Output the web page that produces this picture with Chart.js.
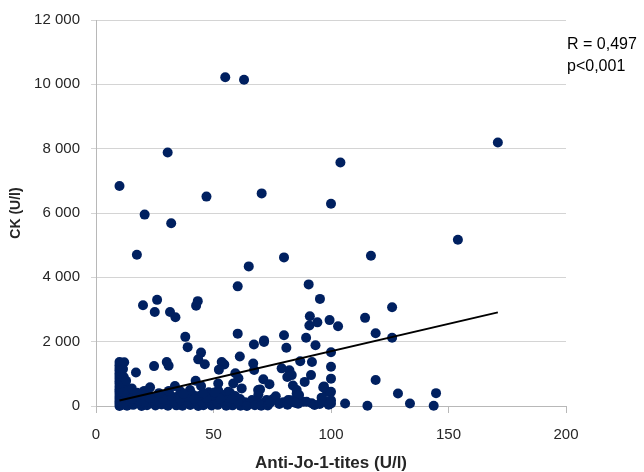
<!DOCTYPE html>
<html>
<head>
<meta charset="utf-8">
<script src="https://cdn.jsdelivr.net/npm/chart.js@4/dist/chart.umd.min.js"></script>
<style>
  body { margin: 0; background: #fff; }
  canvas { display: block; }
</style>
</head>
<body>
<canvas id="ckChart" width="644" height="472"></canvas>
<script>
// Anti-Jo-1 titre (U/l) for each patient
const joTiter = [
  55, 63, 171, 30.5, 104, 10, 47, 70.5, 100, 20.7,
  32, 154, 17.4, 65, 80, 117, 60.3, 90.5, 95.3, 20,
  26, 25, 31.5, 33.8, 42.6, 43.3, 91, 90.8, 94.2, 99.4,
  103, 114.5, 126, 119, 126, 38, 60.3, 80, 71.5, 89.4,
  39, 44.7, 67.2, 71.5, 81, 93.4, 100, 61.2, 43.5, 46.3,
  100, 119, 100, 100, 100, 106, 115.5, 128.5, 133.6, 144.7,
  143.7,
  53.5, 54.6, 52.3, 59.3, 66.9, 67.3, 86.9, 91.9, 79, 82.3,
  83.3, 81.4, 91.5, 71.2, 73.8, 83.8, 88.8, 97, 98.3, 58.4,
  52, 56.3, 69, 85.4, 88.2, 81.8, 72.6, 66.4, 62, 69.8,
  69.1, 85.4, 86.4, 96.7, 61.3, 63.4, 65, 67.5, 70, 72.6,
  75, 78, 79.7, 81.5, 83, 89.6, 91.8, 93, 97.7, 99,
  100, 96, 86, 76.5, 60.6,
  10, 10, 10, 10, 10, 10, 10, 10, 10, 10,
  10, 10, 10, 10, 10, 10, 10, 10, 12, 11.5,
  11.8, 12, 11.6, 12, 11.2,
  13.2, 15.8, 19.4, 21.7, 25.3, 27.9, 30.6, 34.2, 36.8, 40.1,
  43.5, 45.7, 49.2, 51.8, 55.4, 58.1, 61.5, 64.2, 67.6, 70.3,
  73.1,
  14.5, 18.2, 21.1, 24.6, 27.3, 30.2, 33.4, 36.1, 39.3, 42.6,
  45.2, 48.1, 51.4, 54.3, 57.2, 60.4,
  13.1, 16.6, 20.2, 23.1, 26.2, 29.6, 32.3, 35.2, 38.6, 41.3,
  44.1, 47.6, 50.2, 53.1, 56.4, 59.2,
  14, 20.5, 23, 31, 33.6, 36, 40, 42.4, 44.7, 48,
  52, 55, 57, 17, 24.7, 30.1, 30.9, 15.2, 12.8,
  15.3, 22.8, 28.4, 35.7, 41.8, 47.1, 52.7, 57.8,
  17.5, 26.8, 37.2, 45.6, 50.4, 74.2, 84.7, 95.2
];

// CK (U/l) for the same patients
const ckLevel = [
  10220, 10140, 8190, 7880, 7570, 6840, 6510, 6610, 6290, 5950,
  5680, 5170, 4700, 4340, 4620, 4670, 3720, 3780, 3330, 3130,
  3300, 2920, 2920, 2760, 3120, 3260, 2790, 2500, 2600, 2670,
  2480, 2740, 3070, 2260, 2120, 2150, 2250, 2200, 2040, 2120,
  1830, 1660, 1910, 1990, 1810, 1890, 1670, 1540, 1450, 1300,
  1220, 810, 850, 440, 80, 80, 10, 390, 80, 400,
  10,
  1370, 1290, 1130, 1020, 1320, 1120, 1390, 1370, 1170, 1110,
  960, 900, 960, 830, 680, 640, 750, 610, 440, 700,
  700, 440, 495, 390, 130, 185, 185, 185, 547, 516,
  362, 495, 340, 578, 216, 120, 60, 150, 90, 40,
  200, 60, 120, 40, 180, 133, 83, 30, 150, 40,
  180, 260, 70, 300, 860,
  0, 70, 140, 220, 290, 370, 450, 520, 600, 690,
  770, 850, 930, 1010, 1100, 1180, 1270, 1370, 1360, 1150,
  900, 640, 420, 180, 40,
  10, 35, 0, 25, 15, 45, 5, 20, 10, 30,
  0, 25, 15, 35, 5, 20, 10, 0, 25, 5,
  15,
  150, 175, 130, 160, 120, 185, 140, 170, 115, 160,
  130, 180, 140, 165, 120, 150,
  330, 300, 345, 310, 285, 330, 295, 320, 290, 345,
  310, 285, 330, 300, 255, 310,
  510, 470, 580, 470, 618, 450, 500, 783, 620, 430,
  480, 350, 410, 1040, 1240, 1370, 1250, 547, 780,
  230, 240, 225, 235, 220, 245, 230, 215,
  410, 400, 380, 395, 420, 110, 100, 60
];

// linear trend line end points
const trendX = [10, 171];
const trendY = [170, 2910];

const statLines = ['R = 0,497', 'p<0,001'];

Chart.defaults.font.family = '"Liberation Sans", Arial, sans-serif';
Chart.defaults.color = '#262626';

function spaced(v) {
  return String(v).replace(/\B(?=(\d{3})+(?!\d))/g, ' ');
}

const statText = {
  id: 'statText',
  afterDraw(chart) {
    const c = chart.ctx;
    c.save();
    c.font = '16px "Liberation Sans", Arial, sans-serif';
    c.fillStyle = '#000';
    c.textBaseline = 'middle';
    c.textAlign = 'left';
    c.fillText(statLines[0], 567, 45);
    c.fillText(statLines[1], 567, 67);
    c.restore();
  }
};

const ctx = document.getElementById('ckChart').getContext('2d');
new Chart(ctx, {
  type: 'scatter',
  data: {
    datasets: [
      {
        data: trendX.map((x, i) => ({ x: x, y: trendY[i] })),
        showLine: true,
        borderColor: '#000',
        borderWidth: 2,
        pointRadius: 0,
        order: 0
      },
      {
        data: joTiter.map((x, i) => ({ x: x, y: ckLevel[i] })),
        backgroundColor: '#002060',
        borderColor: '#002060',
        pointRadius: 5,
        pointBorderWidth: 0,
        clip: false,
        order: 1
      }
    ]
  },
  options: {
    responsive: false,
    animation: false,
    layout: { padding: { top: 18, right: 78, bottom: 0, left: 0 } },
    plugins: {
      legend: { display: false },
      tooltip: { enabled: false }
    },
    scales: {
      x: {
        type: 'linear',
        min: 0,
        max: 200,
        ticks: { stepSize: 50, padding: 13, font: { size: 15 } },
        grid: { drawOnChartArea: false, tickLength: 7, color: '#b8b8b8' },
        border: { color: '#b8b8b8' },
        title: {
          display: true,
          text: 'Anti-Jo-1-tites (U/l)',
          font: { size: 17, weight: 'bold' },
          padding: { top: 0, bottom: -2 }
        },
        afterFit: s => { s.height = 66; }
      },
      y: {
        min: 0,
        max: 12000,
        ticks: { stepSize: 2000, padding: 11, font: { size: 15 }, callback: v => spaced(v) },
        grid: { color: '#d4d4d4', tickLength: 5 },
        border: { color: '#b8b8b8' },
        title: {
          display: true,
          text: 'CK (U/l)',
          font: { size: 14, weight: 'bold' },
          padding: { top: 8, bottom: 0 }
        },
        afterFit: s => { s.width = 96; }
      }
    }
  },
  plugins: [statText]
});
</script>
</body>
</html>
